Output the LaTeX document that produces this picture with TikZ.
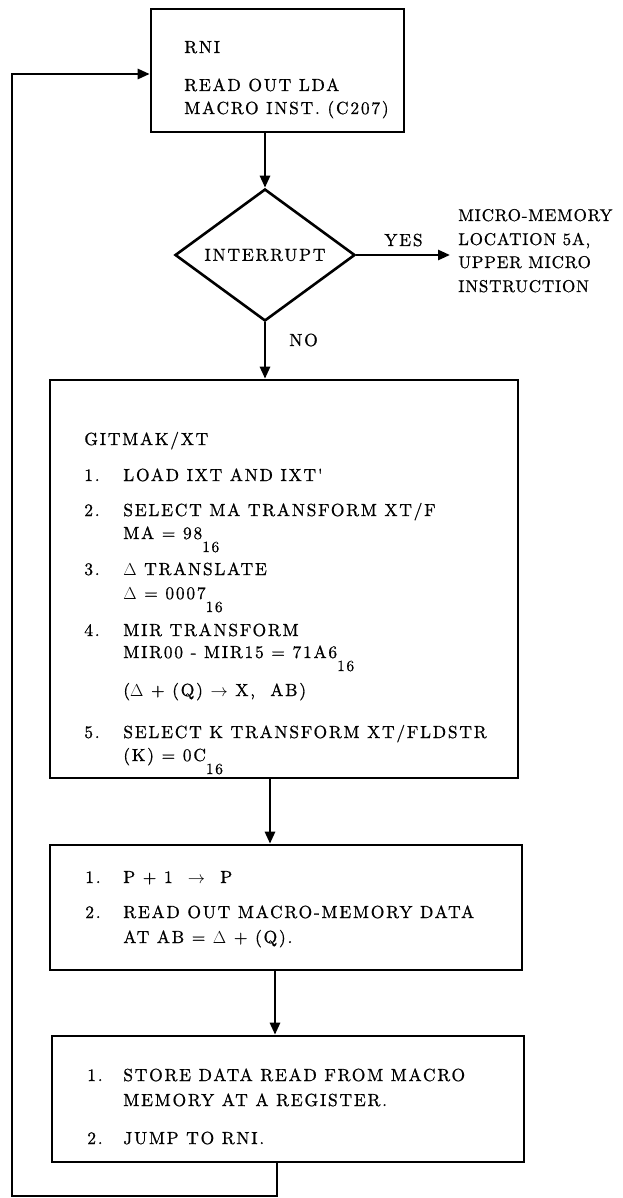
\documentclass[tikz,border=0pt]{standalone}
\usepackage{fontspec}
\usetikzlibrary{shapes.geometric,arrows.meta}
\newfontfamily\diafont{lmroman10-regular.otf}[LetterSpace=10,FakeBold=0.8]
\newfontfamily\sidefont{lmroman10-regular.otf}[LetterSpace=5,FakeBold=0.8]
\newcommand{\hexsub}{\raisebox{-13pt}{\fontsize{15.5}{15}\selectfont 16}}
\begin{document}
\begin{tikzpicture}[x=1pt,y=-1pt,
  line width=2.6pt,
  tip/.style={-{Triangle[length=12pt,width=10pt]}},
  box/.style={draw, rectangle, inner sep=0pt},
  lbl/.style={anchor=base west, inner sep=0pt, font=\diafont\fontsize{17.5}{20}\selectfont},
  side/.style={anchor=base west, inner sep=0pt, font=\sidefont\fontsize{17}{20}\selectfont}]
\useasboundingbox (0,0) rectangle (623,1198);

% top box
\node[box, minimum width=253pt, minimum height=123pt] (rni) at (277.5,70.5) {};
\node[lbl] (rniA) at (183,53) {RNI};
\node[lbl] (rniB) at (183,91) {READ OUT LDA};
\node[lbl] (rniC) at (183,114) {MACRO INST. (C207)};

% decision
\node[draw, diamond, minimum width=180pt, minimum height=132pt, inner sep=0pt, aspect=1.36,
      font=\diafont\fontsize{17.5}{20}\selectfont] (intr) at (265,255) {INTERRUPT};
\draw[tip] (intr.north |- rni.south) -- (intr.north);

\coordinate (yesEnd) at (450,255);
\draw[tip] (intr.east) -- (yesEnd);
\node[lbl] (yes) at (383,246) {YES};
\node[side] (mA) at (457,221) {MICRO-MEMORY};
\node[side] (mB) at (457,245) {LOCATION 5A,};
\node[side] (mC) at (457,268) {UPPER MICRO};
\node[side] (mD) at (457,292) {INSTRUCTION};
\node[lbl] (no) at (288,346) {NO};

% big box
\node[box, minimum width=468pt, minimum height=398pt] (gm) at (284,579) {};
\draw[tip] (intr.south) -- (intr.south |- gm.north);
\node[lbl] (g0) at (83,445) {GITMAK/XT};
\node[lbl] (g1n) at (83,481) {1.};
\node[lbl] (g1) at (122,481) {LOAD IXT AND IXT'};
\node[lbl] (g2n) at (83,516) {2.};
\node[lbl] (g2) at (122,516) {SELECT MA TRANSFORM XT/F};
\node[lbl] (g2b) at (122,539) {MA = 98\hexsub};
\node[lbl] (g3n) at (83,575) {3.};
\node[lbl] (g3) at (122,575) {$\Delta$ TRANSLATE};
\node[lbl] (g3b) at (122,599) {$\Delta$ = 0007\hexsub};
\node[lbl] (g4n) at (83,636) {4.};
\node[lbl] (g4) at (122,636) {MIR TRANSFORM};
\node[lbl] (g4b) at (122,658) {MIR00 - MIR15 = 71A6\hexsub};
\node[lbl] (g4c) at (122,696) {($\Delta$ + (Q) $\rightarrow$ X, \ AB)};
\node[lbl] (g5n) at (83,738) {5.};
\node[lbl] (g5) at (122,738) {SELECT K TRANSFORM XT/FLDSTR};
\node[lbl] (g5b) at (122,761) {(K) = 0C\hexsub};

% box 3
\node[box, minimum width=472pt, minimum height=125pt] (pp) at (286,907.5) {};
\coordinate (xa) at (270,0);
\draw[tip] (xa |- gm.south) -- (xa |- pp.north);
\node[lbl] (p1n) at (84,883) {1.};
\node[lbl] (p1) at (122,883) {P + 1 \ $\rightarrow$ \ P};
\node[lbl] (p2n) at (84,918) {2.};
\node[lbl] (p2) at (122,918) {READ OUT MACRO-MEMORY DATA};
\node[lbl] (p2b) at (122,943) {AT AB = $\Delta$ + (Q).};

% box 4
\node[box, minimum width=472pt, minimum height=126pt] (st) at (288,1099) {};
\coordinate (xb) at (275,0);
\draw[tip] (xb |- pp.south) -- (xb |- st.north);
\node[lbl] (s1n) at (86,1081) {1.};
\node[lbl] (s1) at (122,1081) {STORE DATA READ FROM MACRO};
\node[lbl] (s1b) at (122,1106) {MEMORY AT A REGISTER.};
\node[lbl] (s2n) at (86,1144) {2.};
\node[lbl] (s2) at (122,1144) {JUMP TO RNI.};

% feedback loop
\coordinate (fbA) at (277,1196);
\coordinate (fbB) at (12,1196);
\coordinate (fbC) at (12,74);
\draw[tip] (fbA |- st.south) -- (fbA) -- (fbB) -- (fbC) -- (fbC -| rni.west);
\end{tikzpicture}
\end{document}
